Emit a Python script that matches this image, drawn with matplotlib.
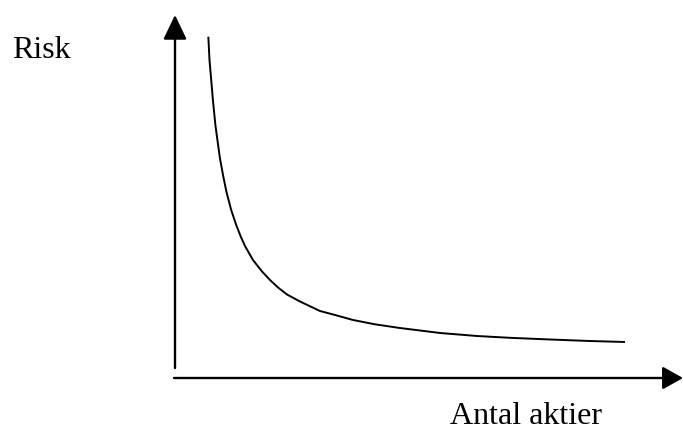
import matplotlib
matplotlib.use("Agg")
import matplotlib.pyplot as plt

# schematic: risk falls as the number of shares grows
antal = [6.56, 6.79, 7.13, 7.46, 7.95, 8.35, 8.84, 9.45, 10.12, 11.06,
         12.05, 12.95, 13.78, 15.35, 17.13, 18.70, 20.28, 22.05, 24.61, 28.54,
         31.50, 35.04, 39.37, 44.29, 52.17, 59.45, 65.94, 73.82, 81.69, 88.58]
risk = [94.02, 87.60, 82.09, 76.58, 69.70, 65.56, 60.61, 55.92, 51.32, 46.28,
        42.15, 38.93, 36.36, 32.51, 29.34, 27.00, 24.93, 23.00, 21.07, 18.46,
        17.36, 15.98, 14.79, 13.77, 12.40, 11.57, 11.07, 10.61, 10.19, 9.92]

x_label = "Antal aktier"
y_label = "Risk"

fig = plt.figure(figsize=(6.83, 4.3), dpi=100)
ax = fig.add_axes([175 / 683, 52 / 430, 508 / 683, 363 / 430])
ax.set_xlim(0, 100)
ax.set_ylim(0, 100)
ax.axis("off")

# axes arrows
ax.annotate("", xy=(0, 100), xytext=(0, 2.75),
            arrowprops=dict(arrowstyle="-|>,head_length=1.5,head_width=0.72",
                            mutation_scale=10, lw=1.7, color="black",
                            shrinkA=0, shrinkB=0),
            annotation_clip=False)
ax.annotate("", xy=(100, 0), xytext=(-0.2, 0),
            arrowprops=dict(arrowstyle="-|>,head_length=1.25,head_width=0.7",
                            mutation_scale=10, lw=1.7, color="black",
                            shrinkA=0, shrinkB=0),
            annotation_clip=False)

ax.plot(antal, risk, color="black", lw=1.4, solid_joinstyle="round",
        solid_capstyle="butt", clip_on=False)

fig.text(12 / 683, 1 - 58 / 430, y_label, family="Liberation Serif",
         fontsize=23, ha="left", va="baseline")
fig.text(450 / 683, 1 - 424 / 430, x_label, family="Liberation Serif",
         fontsize=23, ha="left", va="baseline")

fig.savefig("out.png", dpi=100)
